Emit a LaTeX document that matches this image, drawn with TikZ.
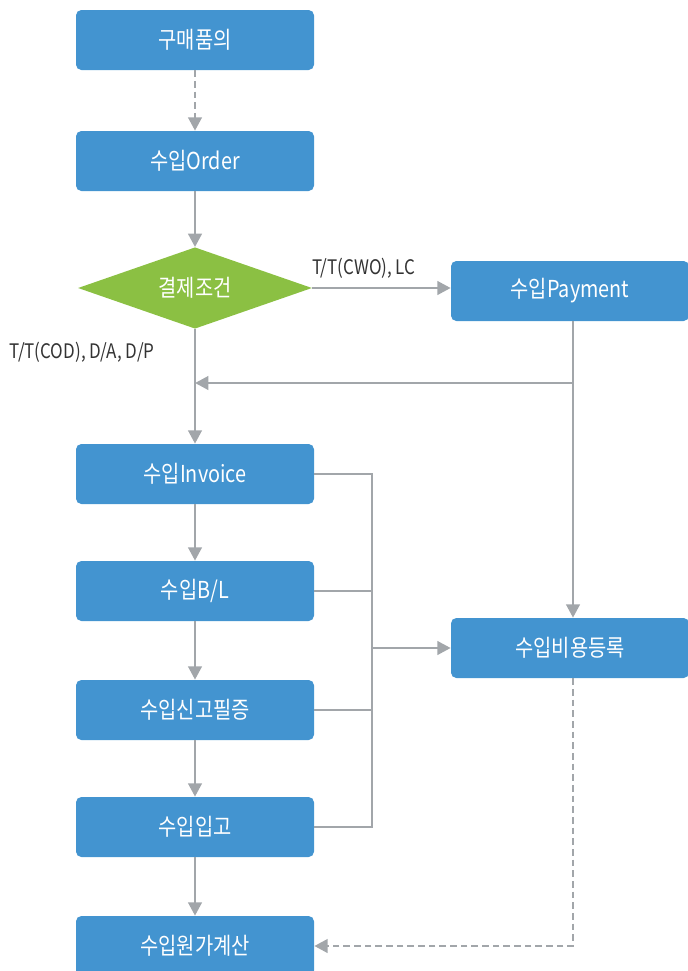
\documentclass[tikz,border=0pt]{standalone}
\usepackage{fontspec}
\setmainfont{Noto Sans CJK KR}
\newfontfamily\labfont[FakeStretch=0.85]{Noto Sans CJK KR}
\usetikzlibrary{arrows.meta,%
                shapes.geometric,%
                positioning}
\definecolor{boxblue}{HTML}{4394D0}
\definecolor{condgreen}{HTML}{8BC043}
\definecolor{linegray}{HTML}{A2A6AA}

\begin{document}
\begin{tikzpicture}[x=0.75pt,y=-0.75pt,
        box/.style={fill=boxblue,rounded corners=4pt,minimum width=178.5pt,minimum height=45pt,text=white,font=\labfont\fontsize{17.5}{20}\selectfont},
        cond/.style={diamond,fill=condgreen,aspect=2.9,inner sep=0pt,minimum width=175.5pt,minimum height=61pt,text=white,font=\labfont\fontsize{17.5}{20}\selectfont},
        lab/.style={font=\labfont\fontsize{15}{17}\selectfont,text=black!80,inner sep=1pt},
        line/.style={draw=linegray,line width=2.2pt,-{Triangle[width=10pt,length=10pt]}},
        dline/.style={line,dash pattern=on 5pt off 3pt}]
        \useasboundingbox (0,0) rectangle (687,971);
        \node[box] (req) at (195,40){구매품의};
        \node[box] (ord) at (195,161){수입Order};
        \node[cond] (terms) at (195,288){결제조건};
        \node[box] (pay) at (570,291){수입Payment};
        \node[box] (inv) at (195,474){수입Invoice};
        \node[box] (bl) at (195,591){수입B/L};
        \node[box] (decl) at (195,710){수입신고필증};
        \node[box] (stock) at (195,827){수입입고};
        \node[box] (calc) at (195,946){수입원가계산};
        \node[box] (cost) at (570,648){수입비용등록};
        \node[lab] (cwo) at (364,268){T/T(CWO), LC};
        \node[lab,anchor=west] (cod) at (8,352){T/T(COD), D/A, D/P};
        \coordinate (merge) at (195,383);
        \coordinate (bustop) at (372,474);
        \coordinate (busbot) at (372,827);
        \draw[dline] (req) -- (ord);
        \draw[line] (ord) -- (terms);
        \draw[line] (terms.east) -- (pay.west |- terms.east);
        \draw[line] (terms.south) -- (inv);
        \draw[line] (pay.south -| 573,0) -- (573,0 |- cost.north);
        \draw[line] (573,0 |- merge) -- (merge);
        \draw[line] (inv) -- (bl);
        \draw[line] (bl) -- (decl);
        \draw[line] (decl) -- (stock);
        \draw[line] (stock) -- (calc);
        \draw[line,-] (inv.east) -- (bustop) -- (busbot) -- (stock.east);
        \draw[line,-] (bl.east) -- (bl.east -| bustop);
        \draw[line,-] (decl.east) -- (decl.east -| bustop);
        \draw[line] (cost.west -| bustop) -- (cost.west);
        \draw[dline] (cost.south -| 573,0) |- (calc.east);
    \end{tikzpicture}
\end{document}
